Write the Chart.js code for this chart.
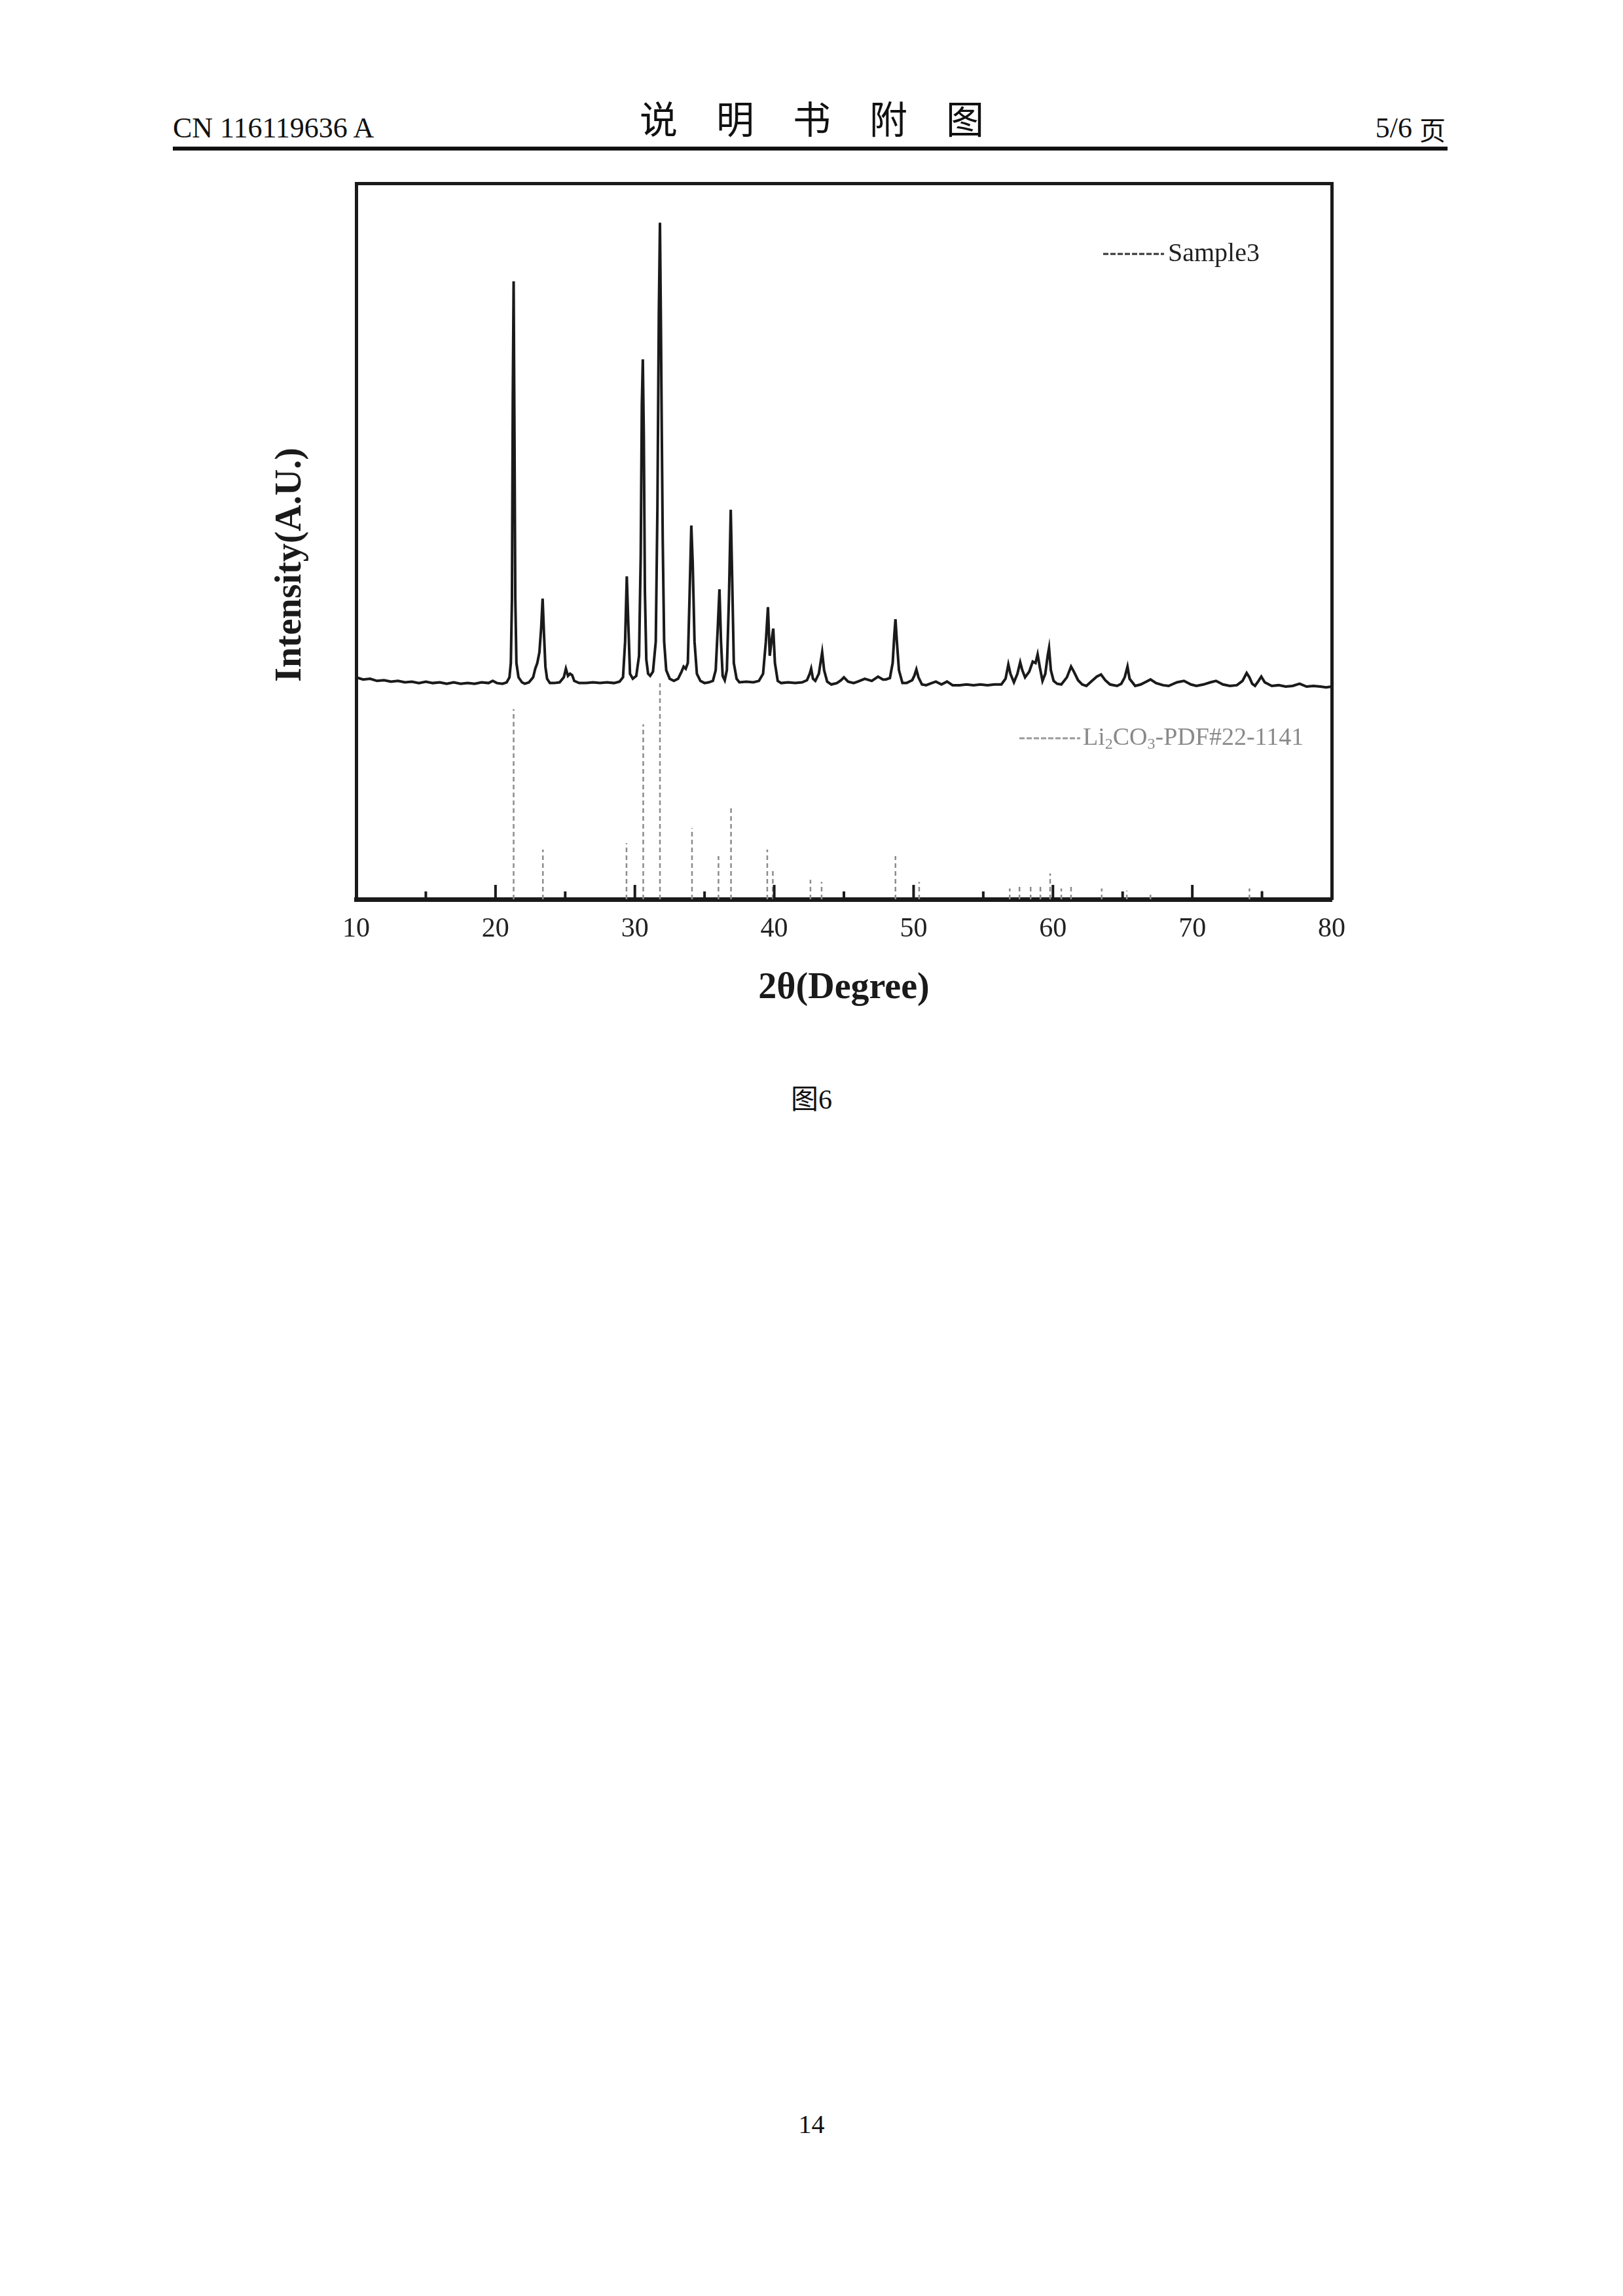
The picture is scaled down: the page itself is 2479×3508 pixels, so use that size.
<!DOCTYPE html>
<html>
<head>
<meta charset="utf-8">
<script src="https://cdn.jsdelivr.net/npm/chart.js@4.4.1/dist/chart.umd.min.js"></script>
<style>
body { margin: 0; background: #fff; width: 2479px; height: 3508px; position: relative; overflow: hidden; }
.t { position: absolute; white-space: nowrap; color: #111; line-height: 1; }
#xrd { position: absolute; left: 0; top: 0; }
</style>
</head>
<body>
<div class="t" style="left:264px; top:170px; font:44px 'Liberation Serif';">CN 116119636 A</div>
<div class="t" style="left:977px; top:137px; font:58px 'Noto Sans CJK SC'; letter-spacing:59px;">说明书附图</div>
<div class="t" style="right:271px; top:170px; font:44px 'Liberation Serif';">5/6 <span style="font:40px 'Noto Sans CJK SC'; vertical-align:top; position:relative; top:-2px;">页</span></div>
<div style="position:absolute; left:264px; top:224px; width:1947px; height:6px; background:#111;"></div>

<canvas id="xrd" width="2479" height="1600"></canvas>

<div class="t" style="left:0; width:2479px; text-align:center; top:1645px; font:42px 'Liberation Serif';"><span style="font-family:'Noto Sans CJK SC'">图</span>6</div>
<div class="t" style="left:0; width:2479px; text-align:center; top:3222px; font:40px 'Liberation Serif';">14</div>

<script>
// Sample3 pattern (2theta in degrees, intensity in plot units 0-1000)
const twoTheta = [
  10.0, 10.5, 11.0, 11.5, 12.0, 12.5, 13.0, 13.5, 14.0, 14.5, 15.0, 15.5, 16.0, 16.5, 17.0, 17.5,
  18.0, 18.5, 19.0, 19.5, 19.8, 20.1, 20.5, 20.8, 21.0, 21.1, 21.18, 21.24, 21.3, 21.36, 21.42, 21.5,
  21.65, 21.9, 22.1, 22.4, 22.7, 22.85, 23.0, 23.15, 23.28, 23.38, 23.48, 23.58, 23.7, 23.9, 24.2, 24.6,
  24.9, 25.05, 25.2, 25.35, 25.5, 25.65, 26.0, 26.5, 27.0, 27.5, 28.0, 28.5, 28.9, 29.15, 29.3, 29.42,
  29.52, 29.65, 29.85, 30.1, 30.3, 30.42, 30.5, 30.57, 30.64, 30.72, 30.82, 30.95, 31.1, 31.3, 31.5, 31.62,
  31.72, 31.8, 31.87, 31.93, 32.0, 32.1, 32.25, 32.5, 32.8, 33.1, 33.35, 33.5, 33.65, 33.8, 33.92, 34.05,
  34.15, 34.28, 34.45, 34.7, 35.0, 35.3, 35.6, 35.8, 35.95, 36.07, 36.18, 36.3, 36.45, 36.6, 36.75, 36.88,
  36.98, 37.1, 37.3, 37.5, 38.0, 38.5, 38.9, 39.2, 39.4, 39.55, 39.68, 39.8, 39.93, 40.05, 40.25, 40.5,
  41.0, 41.5, 42.0, 42.35, 42.55, 42.65, 42.78, 42.95, 43.2, 43.32, 43.44, 43.58, 43.8, 44.1, 44.5, 44.8,
  45.0, 45.3, 45.7, 46.0, 46.5, 47.0, 47.45, 47.8, 48.0, 48.3, 48.5, 48.62, 48.7, 48.8, 48.95, 49.2,
  49.5, 49.9, 50.05, 50.2, 50.35, 50.6, 50.9, 51.3, 51.6, 52.0, 52.4, 52.8, 53.3, 53.8, 54.3, 54.8,
  55.3, 55.8, 56.3, 56.6, 56.8, 56.95, 57.2, 57.45, 57.65, 57.8, 58.0, 58.3, 58.55, 58.75, 58.9, 59.05,
  59.25, 59.45, 59.62, 59.72, 59.85, 60.05, 60.3, 60.6, 61.0, 61.3, 61.5, 61.8, 62.1, 62.4, 62.8, 63.15,
  63.45, 63.75, 64.1, 64.6, 64.9, 65.15, 65.35, 65.5, 65.9, 66.3, 66.7, 67.0, 67.4, 67.9, 68.3, 68.9,
  69.4, 69.9, 70.3, 70.8, 71.3, 71.7, 72.2, 72.7, 73.2, 73.6, 73.9, 74.1, 74.3, 74.5, 74.75, 74.95,
  75.2, 75.7, 76.2, 76.7, 77.2, 77.7, 78.2, 78.7, 79.2, 79.6, 80.0
];
const sample3 = [
  310, 307, 308, 305, 306, 304, 305, 303, 304, 302, 304, 302, 303, 301, 303, 301,
  302, 301, 303, 302, 305, 302, 301, 303, 310, 330, 420, 700, 863, 650, 420, 330,
  310, 303, 301, 303, 310, 322, 330, 345, 380, 420, 370, 325, 308, 302, 302, 303,
  310, 322, 312, 315, 313, 305, 302, 302, 303, 302, 303, 302, 304, 310, 360, 451,
  390, 315, 308, 312, 340, 480, 690, 754, 650, 430, 335, 315, 312, 318, 360, 550,
  820, 945, 800, 655, 500, 360, 320, 308, 305, 308, 318, 325, 322, 330, 420, 522,
  470, 360, 315, 305, 302, 303, 305, 320, 380, 433, 360, 312, 306, 320, 420, 544,
  450, 330, 308, 303, 304, 303, 305, 315, 360, 408, 340, 360, 378, 330, 305, 302,
  303, 302, 303, 306, 315, 322, 308, 305, 315, 330, 345, 320, 304, 300, 302, 306,
  310, 304, 302, 304, 308, 305, 311, 307, 307, 309, 330, 370, 391, 360, 320, 302,
  302, 306, 312, 321, 310, 300, 299, 302, 304, 300, 304, 299, 299, 300, 299, 300,
  299, 300, 300, 308, 328, 315, 303, 315, 331, 320, 310, 318, 332, 330, 342, 325,
  305, 315, 340, 351, 320, 305, 301, 300, 310, 325, 318, 306, 300, 298, 305, 311,
  314, 306, 300, 298, 301, 310, 325, 308, 298, 300, 304, 307, 302, 299, 298, 303,
  305, 300, 298, 300, 303, 305, 300, 298, 299, 305, 316, 310, 301, 298, 305, 311,
  303, 298, 299, 297, 298, 301, 297, 298, 297, 296, 297
];

// Li2CO3 PDF#22-1141 reference lines (2theta, relative intensity %)
const pdfAngle = [21.3, 23.4, 29.4, 30.6, 31.8, 34.1, 36.0, 36.9, 39.5, 39.9, 42.6, 43.4, 48.7,
  50.4, 56.9, 57.6, 58.4, 59.1, 59.8, 60.6, 61.3, 63.5, 65.3, 67.0, 74.1, 75.0];
const pdfIntensity = [88, 23, 26, 81, 100, 33, 20, 43, 23, 14, 9, 8, 20,
  8, 5, 6, 7, 6, 12, 5, 7, 5, 4, 3, 5, 4];

const xMajorTicks = [10, 20, 30, 40, 50, 60, 70, 80];
const xMinorTicks = [15, 25, 35, 45, 55, 65, 75];

const sampleData = twoTheta.map((t, i) => ({ x: t, y: sample3[i] }));
const stickData = [];
pdfAngle.forEach((t, i) => {
  stickData.push({ x: t, y: 0 }, { x: t, y: pdfIntensity[i] }, { x: t, y: null });
});

const ink = '#1a1a1a';
const serif = "'Liberation Serif', 'Times New Roman', serif";

// inward tick marks, y title and the two legends
const decorations = {
  id: 'decorations',
  afterDatasetsDraw(chart) {
    const { ctx, chartArea: a, scales: { x } } = chart;
    ctx.save();
    ctx.strokeStyle = ink;
    ctx.lineWidth = 4;
    const tick = (v, len) => {
      const px = x.getPixelForValue(v);
      ctx.beginPath();
      ctx.moveTo(px, a.bottom);
      ctx.lineTo(px, a.bottom - len);
      ctx.stroke();
    };
    xMajorTicks.forEach(v => tick(v, 22));
    xMinorTicks.forEach(v => tick(v, 12));

    // legend: Sample3
    ctx.setLineDash([8, 3]);
    ctx.lineWidth = 3;
    ctx.strokeStyle = '#333';
    ctx.beginPath();
    ctx.moveTo(a.left + 1141, a.top + 108);
    ctx.lineTo(a.left + 1234, a.top + 108);
    ctx.stroke();
    ctx.fillStyle = '#222';
    ctx.font = '40px ' + serif;
    ctx.textBaseline = 'middle';
    ctx.textAlign = 'left';
    ctx.fillText('Sample3', a.left + 1240, a.top + 108);

    // legend: Li2CO3-PDF#22-1141
    ctx.strokeStyle = '#999';
    ctx.beginPath();
    ctx.moveTo(a.left + 1013, a.top + 848);
    ctx.lineTo(a.left + 1106, a.top + 848);
    ctx.stroke();
    ctx.setLineDash([]);
    ctx.fillStyle = '#8a8a8a';
    let lx = a.left + 1110;
    const ly = a.top + 848;
    const part = (txt, size, dy) => {
      ctx.font = size + 'px ' + serif;
      ctx.fillText(txt, lx, ly + dy);
      lx += ctx.measureText(txt).width;
    };
    part('Li', 38, 0); part('2', 24, 10); part('CO', 38, 0); part('3', 24, 10); part('-PDF#22-1141', 38, 0);

    // y axis title
    ctx.fillStyle = ink;
    ctx.translate(a.left - 99, a.top + 583);
    ctx.rotate(-Math.PI / 2);
    ctx.font = 'bold 56px ' + serif;
    ctx.textAlign = 'center';
    ctx.fillText('Intensity(A.U.)', 0, 0);
    ctx.restore();
  }
};

new Chart(document.getElementById('xrd').getContext('2d'), {
  type: 'line',
  data: {
    datasets: [
      {
        label: 'Sample3',
        data: sampleData,
        yAxisID: 'y',
        borderColor: ink,
        borderWidth: 4,
        pointRadius: 0,
        tension: 0
      },
      {
        label: 'Li2CO3-PDF#22-1141',
        data: stickData,
        yAxisID: 'yRef',
        borderColor: '#8c8c8c',
        borderWidth: 2.5,
        borderDash: [7, 5],
        pointRadius: 0,
        spanGaps: false
      }
    ]
  },
  options: {
    responsive: false,
    animation: false,
    layout: { padding: { left: 544, right: 445, top: 280, bottom: 26 } },
    plugins: { legend: { display: false }, tooltip: { enabled: false } },
    scales: {
      x: {
        type: 'linear',
        position: 'bottom',
        min: 10,
        max: 80,
        afterBuildTicks: s => { s.ticks = xMajorTicks.map(v => ({ value: v })); },
        afterFit: s => { s.height = 200; },
        grid: { display: false, drawTicks: false },
        border: { display: true, color: ink, width: 7 },
        ticks: { color: '#222', padding: 21, font: { family: serif, size: 42 }, maxRotation: 0 },
        title: {
          display: true,
          text: '2θ(Degree)',
          color: ink,
          font: { family: serif, size: 56, weight: 'bold' },
          padding: { top: 10, bottom: 30 }
        }
      },
      xTop: {
        type: 'linear',
        position: 'top',
        min: 10,
        max: 80,
        grid: { display: false, drawTicks: false },
        border: { display: true, color: ink, width: 5 },
        ticks: { display: false }
      },
      y: {
        position: 'left',
        min: 0,
        max: 1000,
        grid: { display: false, drawTicks: false },
        border: { display: true, color: ink, width: 5 },
        ticks: { display: false }
      },
      yRef: {
        position: 'right',
        min: 0,
        max: 331.5,
        grid: { display: false, drawTicks: false },
        border: { display: true, color: ink, width: 5 },
        ticks: { display: false }
      }
    }
  },
  plugins: [decorations]
});
</script>
</body>
</html>
